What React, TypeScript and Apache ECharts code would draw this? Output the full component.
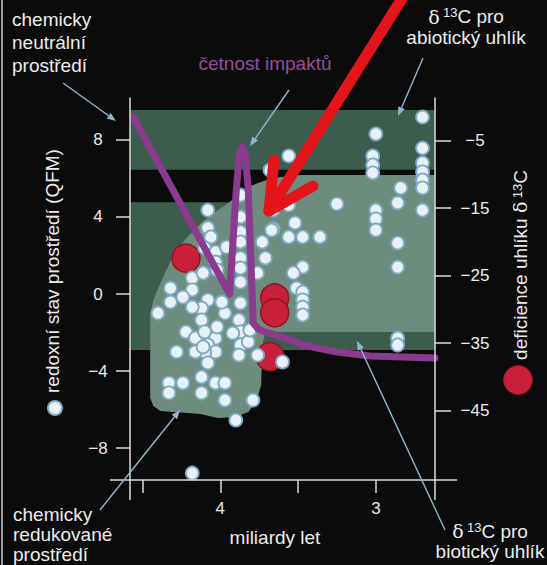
import React, { useEffect, useRef } from "react";
import * as echarts from "echarts";

// ---- axes ----
const xMin = 2.62;
const xMax = 4.58;
const xTicks = [4.5, 4, 3.5, 3];
const xLabels = [4, 3];
const leftMin = -9.66;
const leftMax = 10.18;
const leftTicks = [-8, -4, 0, 4, 8];
const rightMin = -55.27;
const rightMax = 1.33;
const rightTicks = [-45, -35, -25, -15, -5];

// ---- δ13C bands (right axis) ----
const abioticBand = [-0.45, -9.3];
const bioticBand = [-14.1, -36.0];

// ---- redox field outline (age, QFM) ----
const blobOutline: [number, number][] = [
  [2.62, 6.18], [2.62, -1.97], [3.711, -1.97], [3.73, -2.65], [3.737, -4.73],
  [3.769, -5.61], [3.82, -6.13], [3.904, -6.39], [4.013, -6.44], [4.128, -6.23],
  [4.385, -6.08], [4.43, -5.82], [4.45, -5.4], [4.45, -1.09], [4.43, -0.31],
  [4.398, 0.31], [4.347, 1.25], [4.289, 2.18], [4.206, 3.01], [4.116, 3.74],
  [4.013, 4.36], [3.904, 4.99], [3.807, 5.61], [3.666, 6.03], [3.486, 6.18],
];

// ---- redox state (age in Ga, QFM) ----
const redoxPoints: [number, number][] = [
  [2.70, 9.19], [3.00, 8.31], [3.56, 7.17], [3.02, 7.17], [3.02, 6.70], [3.02, 6.29],
  [2.70, 7.58], [2.70, 6.81], [2.70, 6.34], [2.70, 5.92], [2.70, 5.51], [2.84, 5.51],
  [2.86, 4.73], [3.25, 4.68], [3.56, 4.62], [3.66, 4.36], [3.00, 4.36], [3.00, 3.90],
  [3.00, 3.32], [2.70, 4.36], [3.52, 3.69], [3.66, 3.38], [3.56, 2.96], [3.47, 2.96],
  [3.36, 2.96], [2.86, 2.65], [2.86, 1.40], [3.47, 1.40], [3.53, 1.09], [3.51, 0.31],
  [3.47, 0.10], [3.47, -0.31], [3.47, -0.68], [3.47, -1.09], [2.86, -2.29], [2.86, -2.65],
  [3.60, -3.53], [3.68, 6.44],
  [4.08, 4.36], [4.08, 3.43], [4.06, 2.96], [4.10, 2.39], [4.03, 2.18], [4.03, 1.66],
  [3.96, 2.44], [3.87, 5.14], [3.87, 4.00], [3.87, 3.22], [3.87, 2.70], [3.87, 1.87],
  [3.87, 1.35], [3.87, 0.62], [3.73, 2.70], [3.67, 3.32], [3.71, 1.87], [3.76, 1.09],
  [4.18, 0.83], [4.32, 0.31], [4.18, 0.21], [4.11, 1.09], [4.02, 1.25],
  [4.32, -0.42], [4.40, -0.99], [4.08, -0.31], [4.12, -0.73], [3.97, -0.99], [3.99, -0.42],
  [3.87, -0.47], [3.88, -1.35], [4.12, -1.35], [4.22, -1.97], [4.16, -2.29], [4.10, -1.97],
  [4.03, -2.29], [4.08, -2.65], [4.03, -3.01], [4.10, -3.01], [4.16, -3.01], [4.28, -3.01],
  [4.08, -3.58], [3.87, -1.97], [3.87, -2.65], [3.82, -2.49], [3.88, -3.17], [3.76, -3.17],
  [4.12, -4.31], [4.33, -4.62], [4.33, -5.14], [4.24, -4.62], [4.12, -5.14], [4.03, -4.62],
  [3.97, -4.62], [3.97, -5.51], [3.79, -5.51], [3.90, -6.55], [4.18, -9.30], [4.24, -0.16],
  [4.18, -0.68], [3.81, -1.87], [3.92, -2.03], [4.02, -1.71], [4.11, -2.75],
];

// ---- δ13C deficiency (age in Ga, ‰) ----
const carbonPoints: [number, number][] = [
  [4.22, -22.4], [3.65, -28.3], [3.65, -30.5], [3.68, -37.0],
];

// ---- impact rate curve (age, relative, drawn on QFM scale) ----
const impactRate: [number, number][] = [
  [4.559, 9.19], [3.94, 0.0], [3.897, 5.4], [3.878, 7.22], [3.859, 7.64], [3.839, 7.22],
  [3.82, 5.4], [3.788, -1.51], [3.756, -1.82], [3.711, -1.97], [3.583, -2.29],
  [3.467, -2.65], [3.249, -3.01], [3.037, -3.22], [2.62, -3.32],
];

const TXT = "#ececec";
const AXIS = "#dcdcdc";
const ARROW = "#8fb7cb";
const FONT = "'Liberation Sans', Arial, sans-serif";
const SERIF = "'DejaVu Serif', 'Liberation Serif', serif";

function arrow(x1: number, y1: number, x2: number, y2: number) {
  const ang = Math.atan2(y2 - y1, x2 - x1);
  const L = 9, W = 3.5;
  const bx = x2 - L * Math.cos(ang), by = y2 - L * Math.sin(ang);
  const nx = -Math.sin(ang), ny = Math.cos(ang);
  return [
    { type: "line", z: 50, shape: { x1, y1, x2: bx, y2: by }, style: { stroke: ARROW, lineWidth: 1.4 } },
    {
      type: "polygon", z: 50,
      shape: { points: [[x2, y2], [bx + nx * W, by + ny * W], [bx - nx * W, by - ny * W]] },
      style: { fill: ARROW },
    },
  ];
}

const minusFmt = (v: number) => String(v).replace("-", "\u2212");

export default function App() {
  const ref = useRef<HTMLDivElement>(null);
  useEffect(() => {
    document.body.style.margin = "0";
    const chart = echarts.init(ref.current!, undefined, { renderer: "svg" });
    const richDelta = {
      d: { fontFamily: SERIF, fontSize: 19, fill: TXT },
      s: { fontFamily: FONT, fontSize: 13, fill: TXT, verticalAlign: "top", padding: [0, 0, 6, 0] },
      n: { fontFamily: FONT, fontSize: 19, fill: TXT },
    };
    const option: any = {
      animation: false,
      backgroundColor: "#0b0b0b",
      grid: { left: 130, right: 112, top: 98, bottom: 85, containLabel: false },
      xAxis: {
        type: "value", inverse: true, min: xMin, max: xMax, z: 10,
        axisLine: { show: true, onZero: false, lineStyle: { color: AXIS, width: 1.5 } },
        axisTick: { show: true, length: 13, customValues: xTicks, lineStyle: { color: AXIS, width: 1.5 } },
        axisLabel: { customValues: xLabels, color: TXT, fontSize: 17, fontFamily: FONT, margin: 20 },
        splitLine: { show: false },
      },
      yAxis: [
        {
          type: "value", position: "left", min: leftMin, max: leftMax, z: 10,
          axisLine: { show: true, onZero: false, lineStyle: { color: AXIS, width: 1.5 } },
          axisTick: { show: true, length: 14, customValues: leftTicks, lineStyle: { color: AXIS, width: 1.5 } },
          axisLabel: { customValues: leftTicks, color: TXT, fontSize: 17, fontFamily: FONT, margin: 32, align: "center", formatter: minusFmt },
          splitLine: { show: false },
        },
        {
          type: "value", position: "right", min: rightMin, max: rightMax, z: 10,
          axisLine: { show: true, onZero: false, lineStyle: { color: AXIS, width: 1.5 } },
          axisTick: { show: true, length: 16, customValues: rightTicks, lineStyle: { color: AXIS, width: 1.5 } },
          axisLabel: { customValues: rightTicks, color: TXT, fontSize: 17, fontFamily: FONT, margin: 40, align: "center", formatter: minusFmt },
          splitLine: { show: false },
        },
      ],
      series: [
        {
          type: "custom", yAxisIndex: 1, z: 1, clip: true, silent: true,
          data: [abioticBand, bioticBand],
          renderItem: (params: any, api: any) => {
            const p1 = api.coord([xMax, api.value(0)]);
            const p2 = api.coord([xMin, api.value(1)]);
            return {
              type: "rect",
              shape: { x: Math.min(p1[0], p2[0]), y: Math.min(p1[1], p2[1]), width: Math.abs(p2[0] - p1[0]), height: Math.abs(p2[1] - p1[1]) },
              style: { fill: "#3c5c4e" },
            };
          },
        },
        {
          type: "custom", yAxisIndex: 0, z: 2, clip: true, silent: true,
          data: [[0, 0]],
          renderItem: (params: any, api: any) => ({
            type: "polygon",
            shape: { points: blobOutline.map((p) => api.coord(p)) },
            style: { fill: "#6d8c7e" },
          }),
        },
        {
          type: "scatter", yAxisIndex: 1, z: 3, data: carbonPoints, symbolSize: 28,
          itemStyle: { color: "#c8203a", borderColor: "#8c1526", borderWidth: 1.5, opacity: 1 },
        },
        {
          type: "scatter", yAxisIndex: 0, z: 4, data: redoxPoints, symbolSize: 13,
          itemStyle: { color: "#e8f1f5", borderColor: "#7fa9c3", borderWidth: 1.8, opacity: 1 },
        },
        {
          type: "line", yAxisIndex: 0, z: 5, data: impactRate, showSymbol: false, clip: true,
          lineStyle: { color: "#8a3a8f", width: 7, cap: "round", join: "round" },
        },
      ],
      graphic: [
        // frame / axis extensions
        { type: "line", shape: { x1: 2, y1: 0, x2: 2, y2: 565 }, style: { stroke: "#cfcfcf", lineWidth: 1.5 } },
        { type: "line", shape: { x1: 130, y1: 480, x2: 130, y2: 500 }, style: { stroke: AXIS, lineWidth: 1.5 } },
        { type: "line", shape: { x1: 435, y1: 480, x2: 435, y2: 500 }, style: { stroke: AXIS, lineWidth: 1.5 } },
        { type: "line", shape: { x1: 110, y1: 480, x2: 130, y2: 480 }, style: { stroke: AXIS, lineWidth: 1.5 } },
        { type: "line", shape: { x1: 435, y1: 480, x2: 457, y2: 480 }, style: { stroke: AXIS, lineWidth: 1.5 } },
        // annotations
        { type: "text", z: 60, x: 12, y: 8, style: { text: "chemicky\nneutrální\nprostředí", fill: TXT, font: `19px ${FONT}`, lineHeight: 23 } },
        { type: "text", z: 60, x: 265, y: 63, style: { text: "četnost impaktů", fill: "#9b4a9f", font: `19px ${FONT}`, align: "center", verticalAlign: "middle" } },
        {
          type: "text", z: 60, x: 466, y: 6,
          style: { text: "{d|δ} {s|13}{n|C pro}\n{n|abiotický uhlík}", rich: richDelta, fill: TXT, align: "center", lineHeight: 21 },
        },
        { type: "text", z: 60, x: 13, y: 504, style: { text: "chemicky\nredukované\nprostředí", fill: TXT, font: `19px ${FONT}`, lineHeight: 20 } },
        { type: "text", z: 60, x: 275, y: 537, style: { text: "miliardy let", fill: TXT, font: `19px ${FONT}`, align: "center", verticalAlign: "middle" } },
        {
          type: "text", z: 60, x: 490, y: 521,
          style: { text: "{d|δ} {s|13}{n|C pro}\n{n|biotický uhlík}", rich: richDelta, fill: TXT, align: "center", lineHeight: 20 },
        },
        {
          type: "text", z: 60, x: 52, y: 271, rotation: Math.PI / 2,
          style: { text: "redoxní stav prostředí (QFM)", fill: TXT, font: `19px ${FONT}`, align: "center", verticalAlign: "middle" },
        },
        {
          type: "text", z: 60, x: 520, y: 265, rotation: Math.PI / 2,
          style: { text: "{n|deficience uhlíku }{d|δ} {s|13}{n|C}", rich: richDelta, fill: TXT, align: "center", verticalAlign: "middle" },
        },
        // legend markers
        { type: "circle", z: 60, shape: { cx: 55, cy: 408, r: 7 }, style: { fill: "#e8f1f5", stroke: "#7fa9c3", lineWidth: 2 } },
        { type: "circle", z: 60, shape: { cx: 518, cy: 380, r: 14.5 }, style: { fill: "#c8203a", stroke: "#8c1526", lineWidth: 1 } },
        // pointer arrows
        ...arrow(63, 83, 116, 121),
        ...arrow(289, 90, 250, 146),
        ...arrow(423, 58, 398, 116),
        ...arrow(100, 510, 180, 410),
        ...arrow(445, 530, 357, 341),
        // red overlay arrow
        { type: "polyline", z: 80, shape: { points: [[406, -8], [269, 211]] }, style: { stroke: "#e3151b", lineWidth: 11, lineCap: "round", fill: null } },
        { type: "polyline", z: 80, shape: { points: [[274, 160], [269, 211], [313, 186]] }, style: { stroke: "#e3151b", lineWidth: 11, lineCap: "round", lineJoin: "round", fill: null } },
      ],
    };
    chart.setOption(option);
    return () => chart.dispose();
  }, []);
  return <div ref={ref} style={{ position: "fixed", left: 0, top: 0, width: 547, height: 565, background: "#0b0b0b" }} />;
}
